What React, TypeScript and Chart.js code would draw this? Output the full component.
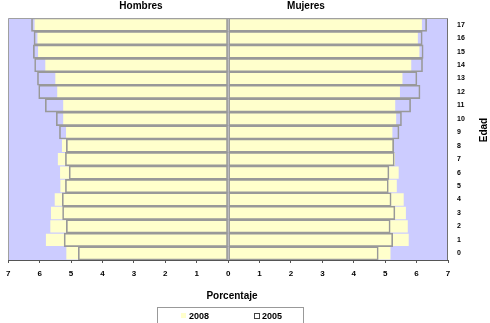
import { useEffect, useRef } from 'react';
import { Chart, registerables } from 'chart.js';

Chart.register(...registerables);

const ages = ['0', '1', '2', '3', '4', '5', '6', '7', '8', '9', '10', '11', '12', '13', '14', '15', '16', '17'];
const hombres2008 = [5.15, 5.8, 5.66, 5.64, 5.52, 5.34, 5.35, 5.42, 5.29, 5.16, 5.25, 5.25, 5.44, 5.5, 5.82, 6.05, 6.07, 6.16];
const mujeres2008 = [5.17, 5.75, 5.72, 5.66, 5.59, 5.37, 5.43, 5.31, 5.25, 5.23, 5.35, 5.32, 5.47, 5.55, 5.83, 6.09, 6.04, 6.17];
const hombres2005 = [4.77, 5.22, 5.15, 5.27, 5.28, 5.18, 5.06, 5.18, 5.15, 5.37, 5.47, 5.82, 6.03, 6.07, 6.16, 6.2, 6.18, 6.26];
const mujeres2005 = [4.78, 5.24, 5.16, 5.31, 5.19, 5.1, 5.12, 5.29, 5.27, 5.44, 5.52, 5.81, 6.11, 6.01, 6.19, 6.21, 6.18, 6.32];
const seriesNames = ['2008', '2005'];
const sideTitles = ['Hombres', 'Mujeres'];
const xTitle = 'Porcentaje';
const yTitle = 'Edad';

const FONT = "'Liberation Sans', Arial, sans-serif";
const BG = '#CCCCFF';
const YELLOW = '#FFFFCC';
const BORDER = '#999999';

export default function App() {
  const ref = useRef<HTMLCanvasElement | null>(null);

  useEffect(() => {
    if (!ref.current) return;

    const decor = {
      id: 'decor',
      beforeDraw(chart: any) {
        const { ctx, chartArea: a } = chart;
        ctx.save();
        ctx.fillStyle = '#ffffff';
        ctx.fillRect(0, 0, chart.width, chart.height);
        ctx.fillStyle = BG;
        ctx.fillRect(a.left, a.top, a.right - a.left, a.bottom - a.top);
        ctx.restore();
      },
      afterDatasetsDraw(chart: any) {
        const { ctx, chartArea: a } = chart;
        ctx.save();
        ctx.strokeStyle = '#a0a0a0';
        ctx.lineWidth = 1;
        ctx.beginPath();
        ctx.moveTo(Math.round(a.left) + 0.5, Math.round(a.bottom));
        ctx.lineTo(Math.round(a.left) + 0.5, Math.round(a.top) + 0.5);
        ctx.lineTo(Math.round(a.right) - 0.5, Math.round(a.top) + 0.5);
        ctx.stroke();
        ctx.strokeStyle = '#707070';
        ctx.beginPath();
        ctx.moveTo(Math.round(a.right) - 0.5, Math.round(a.top) + 0.5);
        ctx.lineTo(Math.round(a.right) - 0.5, Math.round(a.bottom));
        ctx.stroke();
        ctx.restore();
      },
      afterDraw(chart: any) {
        const { ctx } = chart;
        ctx.save();
        ctx.fillStyle = '#000';
        ctx.textBaseline = 'middle';
        ctx.textAlign = 'center';
        ctx.font = `bold 10px ${FONT}`;
        ctx.fillText(sideTitles[0], 141, 6);
        ctx.fillText(sideTitles[1], 306, 6);
        ctx.fillText(xTitle, 232, 296);
        ctx.save();
        ctx.translate(484, 130);
        ctx.rotate(-Math.PI / 2);
        ctx.fillText(yTitle, 0, 0);
        ctx.restore();

        // legend
        ctx.fillStyle = '#ffffff';
        ctx.fillRect(157, 307, 146, 20);
        ctx.strokeStyle = '#999999';
        ctx.lineWidth = 1;
        ctx.strokeRect(157.5, 307.5, 146, 20);
        ctx.fillStyle = YELLOW;
        ctx.fillRect(181, 313, 5, 5);
        ctx.fillStyle = '#ffffff';
        ctx.fillRect(254.5, 313.5, 5, 5);
        ctx.strokeStyle = '#444444';
        ctx.strokeRect(254.5, 313.5, 5, 5);
        ctx.fillStyle = '#000';
        ctx.textAlign = 'left';
        ctx.font = `bold 9px ${FONT}`;
        ctx.fillText(seriesNames[0], 189, 316.5);
        ctx.fillText(seriesNames[1], 262, 316.5);
        ctx.restore();
      },
    };

    const chart = new Chart(ref.current, {
      type: 'bar',
      data: {
        labels: ages,
        datasets: [
          {
            label: seriesNames[1] + ' H',
            data: hombres2005.map((v) => -v),
            backgroundColor: 'rgba(0,0,0,0)',
            borderColor: BORDER,
            borderWidth: 1,
            borderSkipped: false,
            grouped: false,
            barPercentage: 1,
            categoryPercentage: 1,
            order: 0,
          },
          {
            label: seriesNames[1] + ' M',
            data: mujeres2005,
            backgroundColor: 'rgba(0,0,0,0)',
            borderColor: BORDER,
            borderWidth: 1,
            borderSkipped: false,
            grouped: false,
            barPercentage: 1,
            categoryPercentage: 1,
            order: 0,
          },
          {
            label: seriesNames[0] + ' H',
            data: hombres2008.map((v) => -v),
            backgroundColor: YELLOW,
            borderWidth: 0,
            grouped: false,
            barPercentage: 0.92,
            categoryPercentage: 1,
            order: 1,
          },
          {
            label: seriesNames[0] + ' M',
            data: mujeres2008,
            backgroundColor: YELLOW,
            borderWidth: 0,
            grouped: false,
            barPercentage: 0.92,
            categoryPercentage: 1,
            order: 1,
          },
        ],
      } as any,
      options: {
        indexAxis: 'y',
        responsive: false,
        animation: false,
        events: [],
        layout: { padding: { left: 6, top: 18, right: 0, bottom: 43 } },
        plugins: {
          legend: { display: false },
          tooltip: { enabled: false },
          title: { display: false },
        },
        scales: {
          x: {
            type: 'linear',
            min: -7,
            max: 7,
            ticks: {
              stepSize: 1,
              callback: (v: any) => String(Math.abs(Number(v))),
              font: { family: FONT, size: 8, weight: 'bold' },
              color: '#000',
              padding: 6,
              maxRotation: 0,
            },
            grid: {
              drawOnChartArea: false,
              drawTicks: true,
              tickLength: 3,
              tickColor: '#555',
            },
            border: { color: '#555', width: 1 },
            afterFit: (s: any) => {
              s.height = 20;
            },
          },
          y: {
            type: 'category',
            position: 'right',
            reverse: true,
            ticks: {
              font: { family: FONT, size: 7, weight: 'bold' },
              color: '#000',
              padding: 1,
              autoSkip: false,
            },
            grid: { display: false },
            border: { display: false },
            afterFit: (s: any) => {
              s.width = 42;
            },
          },
        },
      } as any,
      plugins: [decor],
    });

    return () => chart.destroy();
  }, []);

  return (
    <div style={{ position: 'fixed', left: 0, top: 0, width: 490, height: 323, background: '#fff' }}>
      <canvas ref={ref} width={490} height={323} style={{ display: 'block' }} />
    </div>
  );
}
